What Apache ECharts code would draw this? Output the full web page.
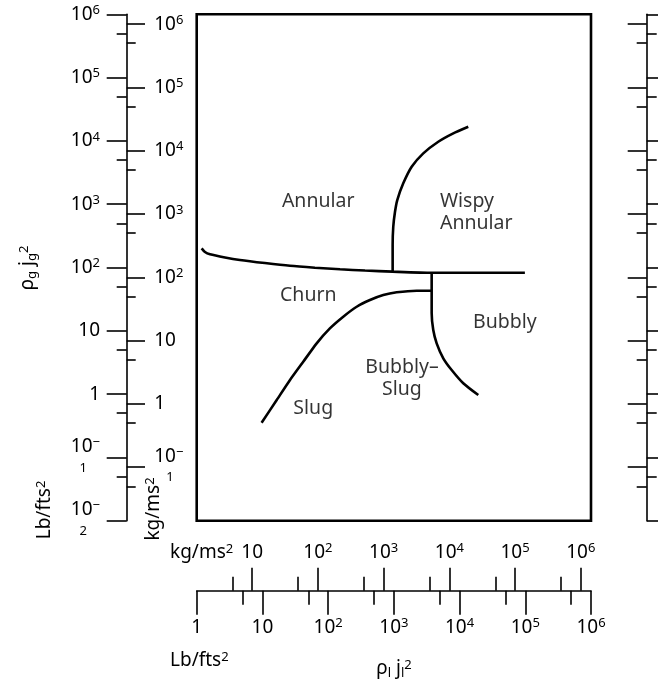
<!DOCTYPE html>
<html>
<head>
<meta charset="utf-8">
<script src="https://cdn.jsdelivr.net/npm/echarts@6/dist/echarts.min.js"></script>
<style>
  html, body { margin: 0; padding: 0; background: #fff; }
  #chart { width: 658px; height: 692px; }
</style>
</head>
<body>
<div id="chart"></div>
<script>
// Vertical two-phase flow regime map: gas momentum flux vs liquid momentum flux.
// Boundary coordinates are in kg/(m s^2).

// Annular / churn boundary
const annularChurnJl = [1.70, 1.91, 2.28, 3.85, 6.5, 15.6, 37.6, 90, 217, 520, 1370, 5380, 141000];
const annularChurnJg = [287, 251, 231, 206, 188, 168, 152, 142, 134, 128, 123, 118, 118];

// Annular / wispy annular boundary
const wispyJl = [1371, 1371, 1401, 1487, 1612, 1989, 2670, 4009, 6780, 11470, 19400];
const wispyJg = [123, 324, 630, 1076, 1665, 3056, 5590, 9100, 13880, 18840, 23950];

// Churn / slug boundary
const slugJl = [13.9, 23.6, 37.6, 59.8, 95.7, 152, 243, 389, 619, 987, 1578, 3181, 5380];
const slugJg = [0.505, 1.153, 2.39, 4.64, 9.07, 15.6, 23.9, 34.3, 43.8, 52.5, 58.0, 61.5, 61.5];

// Bubbly boundary
const bubblyJl = [5380, 5380, 5380, 5690, 6410, 8080, 10840, 16280, 27540];
const bubblyJg = [118, 61.5, 27.3, 14.7, 9.07, 5.26, 3.43, 2.12, 1.38];

// Regime names and where they sit on the map
const regimeNames = ['Annular', 'Wispy\nAnnular', 'Churn', 'Bubbly', 'Bubbly\u2013\nSlug', 'Slug'];
const regimeJl = [101, 7190, 71.3, 70150, 1900, 84.9];
const regimeJg = [1607, 1076, 51.6, 19.7, 2.57, 0.861];

// Axis extents (Lb/ft s^2 and kg/m s^2 scales share one frame)
const lbXRange = [1, 1e6];
const lbYRange = [1e-2, 1e6];
const kgPerLb = 1.43;

// Tick values
const lbXDecades = [1, 10, 1e2, 1e3, 1e4, 1e5, 1e6];
const lbXHalves = [5, 50, 5e2, 5e3, 5e4, 5e5];
const kgXDecades = [10, 1e2, 1e3, 1e4, 1e5, 1e6];
const kgXHalves = [5, 50, 5e2, 5e3, 5e4, 5e5];
const lbYDecades = [1e-2, 1e-1, 1, 10, 1e2, 1e3, 1e4, 1e5, 1e6];
const lbYHalves = [5e-2, 5e-1, 5, 50, 5e2, 5e3, 5e4, 5e5];
const kgYDecades = [1e-1, 1, 10, 1e2, 1e3, 1e4, 1e5, 1e6];
const kgYHalves = [5e-2, 5e-1, 5, 50, 5e2, 5e3, 5e4, 5e5];

const FONT = '"Noto Sans", "DejaVu Sans", sans-serif';
const INK = '#000';
const FS = 19;
const LFS = 19.5;
const SFS = 13;

function richSet(wrapPad) {
  return {
    b: { fontFamily: FONT, fontSize: FS, color: INK, lineHeight: 21 },
    sup: { fontFamily: FONT, fontSize: SFS, color: INK, lineHeight: 13, verticalAlign: 'top' },
    sub: { fontFamily: FONT, fontSize: SFS, color: INK, lineHeight: 13, verticalAlign: 'bottom' },
    w: { fontFamily: FONT, fontSize: SFS, color: INK, lineHeight: 22, padding: wrapPad }
  };
}

function powerLabel(v) {
  const e = Math.round(Math.log10(v));
  if (e === 0) return '{b|1}';
  if (e === 1) return '{b|10}';
  if (e > 1) return '{b|10}{sup|' + e + '}';
  return '{b|10}{sup|\u2212}\n{w|' + (-e) + '}';
}

function tickAxis(o) {
  return {
    type: 'log',
    logBase: 10,
    min: o.min,
    max: o.max,
    position: o.position,
    offset: o.offset,
    axisLine: { show: !!o.line, lineStyle: { color: INK, width: 1.6 } },
    axisTick: {
      show: true,
      customValues: o.ticks,
      length: o.len,
      inside: !!o.inside,
      lineStyle: { color: INK, width: 1.6 }
    },
    axisLabel: o.labels ? {
      show: true,
      customValues: o.labels,
      inside: !!o.inside,
      margin: o.margin,
      formatter: powerLabel,
      rich: richSet(o.wrapPad)
    } : { show: false },
    splitLine: { show: false },
    minorTick: { show: false }
  };
}

const kgX = [lbXRange[0] * kgPerLb, lbXRange[1] * kgPerLb];
const kgY = [lbYRange[0] * kgPerLb, lbYRange[1] * kgPerLb];

const xAxis = [
  tickAxis({ min: kgX[0], max: kgX[1], position: 'bottom', offset: 70, ticks: kgXDecades, len: 23, inside: true, labels: kgXDecades, margin: 28 }),
  tickAxis({ min: kgX[0], max: kgX[1], position: 'bottom', offset: 70, ticks: kgXHalves, len: 14, inside: true }),
  tickAxis({ min: lbXRange[0], max: lbXRange[1], position: 'bottom', offset: 70, ticks: lbXDecades, len: 24, line: true, labels: lbXDecades, margin: 26 }),
  tickAxis({ min: lbXRange[0], max: lbXRange[1], position: 'bottom', offset: 70, ticks: lbXHalves, len: 14 })
];

const yAxis = [
  // left: kg scale inside, Lb scale outside
  tickAxis({ min: kgY[0], max: kgY[1], position: 'left', offset: 70, ticks: kgYDecades, len: 18.3, inside: true, labels: kgYDecades, margin: 27.5, wrapPad: [0, 0, 0, 12] }),
  tickAxis({ min: kgY[0], max: kgY[1], position: 'left', offset: 70, ticks: kgYHalves, len: 9, inside: true }),
  tickAxis({ min: lbYRange[0], max: lbYRange[1], position: 'left', offset: 70, ticks: lbYDecades, len: 20, line: true, labels: lbYDecades, margin: 26.7, wrapPad: [0, 13, 0, 0] }),
  tickAxis({ min: lbYRange[0], max: lbYRange[1], position: 'left', offset: 70, ticks: lbYHalves, len: 10 }),
  // right: mirrored scale without labels
  tickAxis({ min: kgY[0], max: kgY[1], position: 'right', offset: 55.7, ticks: kgYDecades, len: 19, inside: true }),
  tickAxis({ min: kgY[0], max: kgY[1], position: 'right', offset: 55.7, ticks: kgYHalves, len: 10, inside: true }),
  tickAxis({ min: lbYRange[0], max: lbYRange[1], position: 'right', offset: 55.7, ticks: lbYDecades, len: 20, line: true }),
  tickAxis({ min: lbYRange[0], max: lbYRange[1], position: 'right', offset: 55.7, ticks: lbYHalves, len: 10 })
];

function zip(xs, ys) { return xs.map((x, i) => [x, ys[i]]); }

function boundary(xs, ys) {
  return {
    type: 'line',
    xAxisIndex: 0,
    yAxisIndex: 0,
    data: zip(xs, ys),
    showSymbol: false,
    symbol: 'none',
    smooth: 0.2,
    lineStyle: { color: '#000', width: 2.6 },
    silent: true,
    z: 5
  };
}

const leftAligned = new Set(['Wispy\nAnnular']);

const regimeLabels = {
  type: 'scatter',
  xAxisIndex: 0,
  yAxisIndex: 0,
  symbolSize: 1,
  itemStyle: { color: 'rgba(0,0,0,0)' },
  silent: true,
  data: regimeNames.map((name, i) => ({
    name: name,
    value: [regimeJl[i], regimeJg[i]],
    label: {
      show: true,
      position: 'inside',
      formatter: name,
      align: leftAligned.has(name) ? 'left' : 'center',
      verticalAlign: 'middle',
      fontFamily: FONT,
      fontSize: LFS,
      lineHeight: 22,
      color: INK
    }
  })),
  z: 6
};

const titleRich = richSet([0, 0, 0, 0]);

function textEl(x, y, text, rotation, align) {
  return {
    type: 'text',
    x: x,
    y: y,
    rotation: rotation || 0,
    style: {
      text: text,
      rich: titleRich,
      align: align || 'center',
      verticalAlign: 'middle',
      font: FS + 'px ' + FONT,
      fill: INK
    },
    silent: true
  };
}

const chart = echarts.init(document.getElementById('chart'), null, { renderer: 'canvas' });
chart.setOption({
  animation: false,
  backgroundColor: '#fff',
  grid: {
    left: 196.7, top: 14.3, width: 394.3, height: 506.4,
    show: true, borderColor: '#000', borderWidth: 2.6, backgroundColor: 'rgba(0,0,0,0)'
  },
  xAxis: xAxis,
  yAxis: yAxis,
  series: [
    boundary(annularChurnJl, annularChurnJg),
    boundary(wispyJl, wispyJg),
    boundary(slugJl, slugJg),
    boundary(bubblyJl, bubblyJg),
    regimeLabels
  ],
  graphic: [
    textEl(28, 268, '{b|\u03c1}{sub|g}{b| j}{sub|g}{sup|2}', Math.PI / 2),
    textEl(45, 510, '{b|Lb/fts}{sup|2}', Math.PI / 2),
    textEl(154, 509, '{b|kg/ms}{sup|2}', Math.PI / 2),
    textEl(170, 553, '{b|kg/ms}{sup|2}', 0, 'left'),
    textEl(170, 661, '{b|Lb/fts}{sup|2}', 0, 'left'),
    textEl(394, 669, '{b|\u03c1}{sub|l}{b| j}{sub|l}{sup|2}', 0)
  ]
});
</script>
</body>
</html>
